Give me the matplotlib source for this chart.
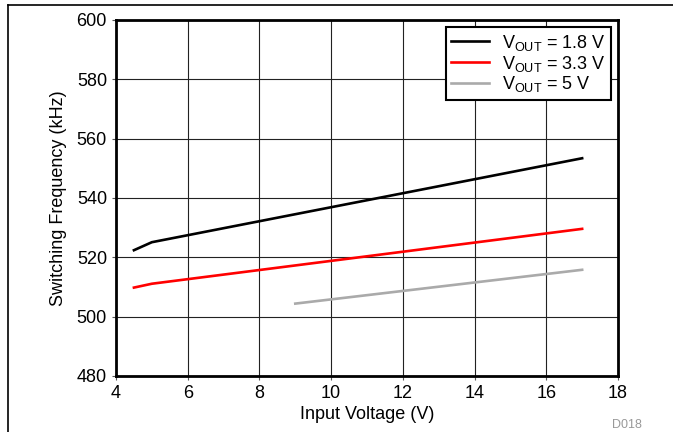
import matplotlib.pyplot as plt
from matplotlib.lines import Line2D

plt.rcParams['font.family'] = ['Liberation Sans', 'DejaVu Sans']

# Switching frequency vs input voltage
vin_18 = [4.5, 5, 17]
fsw_18 = [522.4, 525.1, 553.4]

vin_33 = [4.5, 5, 17]
fsw_33 = [509.8, 511.1, 529.6]

vin_5 = [9, 17]
fsw_5 = [504.4, 515.8]

labels = ['V$_{\\mathregular{OUT}}$ = 1.8 V', 'V$_{\\mathregular{OUT}}$ = 3.3 V', 'V$_{\\mathregular{OUT}}$ = 5 V']
colors = ['black', '#ff0000', '#aaaaaa']

fig = plt.figure(figsize=(6.73, 4.32), dpi=100)
ax = fig.add_axes([116 / 673, 1 - 376 / 432, 502 / 673, 356 / 432])

ax.plot(vin_18, fsw_18, color=colors[0], lw=1.9, label=labels[0])
ax.plot(vin_33, fsw_33, color=colors[1], lw=1.9, label=labels[1])
ax.plot(vin_5, fsw_5, color=colors[2], lw=1.9, label=labels[2])

ax.set_xlim(4, 18)
ax.set_ylim(480, 600)
ax.set_xticks(range(4, 19, 2))
ax.set_yticks(range(480, 601, 20))
ax.grid(True, color='#222222', lw=0.8)
ax.tick_params(labelsize=13, length=3, width=0.8, color='#555555')
for s in ax.spines.values():
    s.set_linewidth(2)

ax.set_xlabel('Input Voltage (V)', fontsize=13, labelpad=3)
ax.set_ylabel('Switching Frequency (kHz)', fontsize=13, labelpad=7)

leg = ax.legend(loc='upper right', fontsize=13, frameon=True, fancybox=False,
                edgecolor='black', framealpha=1, borderaxespad=0.4,
                handlelength=2.1, handletextpad=0.7, labelspacing=0.05, borderpad=0.3)
leg.get_frame().set_linewidth(1.5)

# outer frame (left and top edges)
fig.add_artist(Line2D([8 / 673, 8 / 673], [0, 1 - 5 / 432], color='black', lw=1.2))
fig.add_artist(Line2D([8 / 673, 1], [1 - 5 / 432, 1 - 5 / 432], color='black', lw=1.2))

fig.text(627 / 673, 1 - 425 / 432, 'D018', fontsize=9, color='#999999', ha='center', va='center')

fig.savefig('out.png', dpi=100)
